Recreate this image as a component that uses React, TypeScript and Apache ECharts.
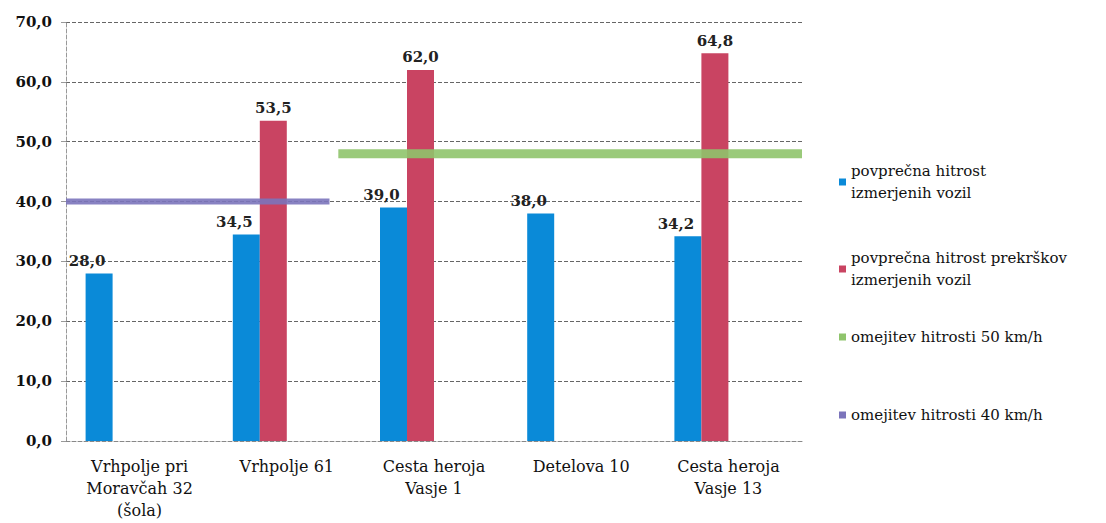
import React, { useEffect, useRef } from "react";
import * as echarts from "echarts";

const categories = [
  "Vrhpolje pri\nMoravčah 32\n(šola)",
  "Vrhpolje 61",
  "Cesta heroja\nVasje 1",
  "Detelova 10",
  "Cesta heroja\nVasje 13",
];
const avgSpeed = [28.0, 34.5, 39.0, 38.0, 34.2];
const violationSpeed: (number | null)[] = [null, 53.5, 62.0, null, 64.8];
// horizontal limit lines on a hidden 0..5 value axis spanning the categories
const limit50 = [[1.85, 48], [5, 48]];
const limit40 = [[0, 40], [1.79, 40]];
const yTicks = { min: 0, max: 70, interval: 10 };

const names = {
  avg: "povprečna hitrost\nizmerjenih vozil",
  viol: "povprečna hitrost prekrškov\nizmerjenih vozil",
  l50: "omejitev hitrosti 50 km/h",
  l40: "omejitev hitrosti 40 km/h",
};
const legendOrder = [names.avg, names.viol, names.l50, names.l40];
const legendTops = [155, 242, 321, 399];

const fmt = (v: number) => v.toFixed(1).replace(".", ",");
const serif = "DejaVu Serif";

export default function App() {
  const ref = useRef<HTMLDivElement>(null);
  useEffect(() => {
    if (!ref.current) return;
    const chart = echarts.init(ref.current, null, { renderer: "svg" });
    const label = {
      show: true,
      position: "top",
      fontFamily: serif,
      fontWeight: "bold",
      fontSize: 15,
      color: "#222",
      formatter: (p: any) => fmt(p.value),
    };
    chart.setOption({
      animation: false,
      backgroundColor: "#fff",
      grid: { left: 66, top: 22, right: 304, bottom: 82 },
      legend: legendOrder.map((n, i) => ({
        orient: "vertical",
        left: 834,
        top: legendTops[i],
        icon: "rect",
        itemWidth: 7,
        itemHeight: 7,
        itemGap: 5,
        data: [n],
        textStyle: { fontFamily: serif, fontSize: 15, color: "#111", lineHeight: 22 },
      })),
      xAxis: [
        {
          type: "category",
          data: categories,
          axisTick: { show: false },
          axisLine: { lineStyle: { color: "#888", type: "dashed" } },
          axisLabel: {
            fontFamily: serif,
            fontSize: 16,
            color: "#111",
            lineHeight: 22,
            margin: 14,
            interval: 0,
          },
        },
        { type: "value", min: 0, max: 5, show: false },
      ],
      yAxis: {
        type: "value",
        min: yTicks.min,
        max: yTicks.max,
        interval: yTicks.interval,
        axisLine: { show: true, lineStyle: { color: "#999", type: "dashed" } },
        axisLabel: {
          fontFamily: serif,
          fontWeight: "bold",
          fontSize: 15,
          color: "#111",
          formatter: (v: number) => fmt(v),
          margin: 14,
        },
        splitLine: { lineStyle: { color: "#666", type: "dashed", width: 1 } },
      },
      series: [
        {
          name: names.avg,
          type: "bar",
          data: avgSpeed,
          barWidth: 27,
          barGap: "0%",
          itemStyle: { color: "#0a8ad8" },
          label: { ...label, offset: [-12, 0] },
        },
        {
          name: names.viol,
          type: "bar",
          data: violationSpeed,
          barWidth: 27,
          barGap: "0%",
          itemStyle: { color: "#c94462" },
          label,
        },
        { name: "_slot1", type: "bar", data: categories.map(() => null), barWidth: 27, barGap: "0%" },
        { name: "_slot2", type: "bar", data: categories.map(() => null), barWidth: 27, barGap: "0%" },
        {
          name: names.l50,
          type: "line",
          xAxisIndex: 1,
          data: limit50,
          symbol: "none",
          itemStyle: { color: "#8fc46c" },
          lineStyle: { color: "#8fc46c", width: 9, opacity: 0.9 },
          z: 3,
        },
        {
          name: names.l40,
          type: "line",
          xAxisIndex: 1,
          data: limit40,
          symbol: "none",
          itemStyle: { color: "#7b74bb" },
          lineStyle: { color: "#7b74bb", width: 6, opacity: 0.9 },
          z: 3,
        },
      ],
    });
    return () => chart.dispose();
  }, []);
  return (
    <div
      ref={ref}
      style={{ position: "fixed", left: 0, top: 0, width: 1106, height: 523 }}
    />
  );
}
